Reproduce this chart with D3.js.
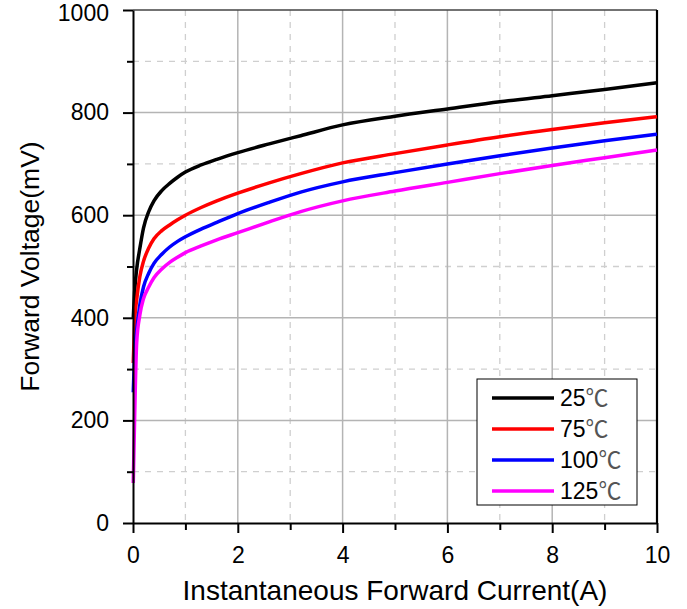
<!DOCTYPE html>
<html>
<head>
  <meta charset="utf-8">
  <title>Forward Voltage vs Forward Current</title>
  <script src="https://d3js.org/d3.v7.min.js"></script>
  <style>
    body { margin: 0; background: #fff; font-family: "Liberation Sans", Arial, sans-serif; }
    .grid-major line { stroke: #b4b4b4; stroke-width: 1.5px; }
    .grid-minor line { stroke: #cfcfcf; stroke-width: 1.3px; stroke-dasharray: 6,6; }
    .axis path, .axis line { stroke: #000; stroke-width: 2px; }
    .axis text { font-size: 23px; fill: #000; font-family: "Liberation Sans", Arial, sans-serif; }
    .title { fill: #000; }
    .legend text { font-size: 23px; fill: #000; }
    .deg { font-family: "Noto Sans CJK SC", "DejaVu Sans", sans-serif; fill: #555; }
  </style>
</head>
<body>
  <svg width="687" height="609"></svg>
  <script>
    // data
    const current = [0.005, 0.03, 0.07, 0.13, 0.2, 0.3, 0.4, 0.55, 0.7, 0.85, 1.0, 1.3, 1.6, 2.0, 2.6, 3.2, 4, 5, 6, 7, 8, 9, 10];
    const v25  = [400, 450, 495, 535, 575, 607, 628, 648, 662, 674, 684, 698, 709, 722, 739, 755, 776, 793, 807, 821, 833, 845, 858];
    const v75  = [312, 390, 435, 480, 510, 536, 554, 570, 581, 591, 600, 615, 628, 643, 663, 681, 702, 720, 737, 753, 767, 780, 792];
    const v100 = [255, 330, 376, 425, 460, 487, 506, 524, 538, 549, 558, 573, 586, 603, 625, 645, 665, 683, 700, 716, 731, 745, 758];
    const v125 = [78, 200, 351, 405, 437, 460, 478, 495, 508, 518, 527, 540, 552, 566, 587, 607, 628, 647, 664, 681, 697, 712, 727];

    const seriesNames = ["25", "75", "100", "125"];
    const seriesColors = ["#000000", "#ff0000", "#0000ff", "#ff00ff"];
    const seriesValues = [v25, v75, v100, v125];

    const xMajor = [0, 2, 4, 6, 8, 10];
    const xMinor = [1, 3, 5, 7, 9];
    const yMajor = [0, 200, 400, 600, 800, 1000];
    const yMinor = [100, 300, 500, 700, 900];

    const svg = d3.select("svg");
    const pl = 133, pr = 657, pt = 10, pb = 523;

    const x = d3.scaleLinear().domain([0, 10]).range([pl, pr]);
    const y = d3.scaleLinear().domain([0, 1000]).range([pb, pt]);

    // grid lines
    const gMinor = svg.append("g").attr("class", "grid-minor");
    gMinor.selectAll("line.vx").data(xMinor).enter().append("line")
      .attr("x1", d => x(d)).attr("x2", d => x(d)).attr("y1", pt).attr("y2", pb);
    gMinor.selectAll("line.hy").data(yMinor).enter().append("line")
      .attr("x1", pl).attr("x2", pr).attr("y1", d => y(d)).attr("y2", d => y(d));

    const gMajor = svg.append("g").attr("class", "grid-major");
    gMajor.selectAll("line.vx").data(xMajor.slice(1, -1)).enter().append("line")
      .attr("x1", d => x(d)).attr("x2", d => x(d)).attr("y1", pt).attr("y2", pb);
    gMajor.selectAll("line.hy").data(yMajor.slice(1, -1)).enter().append("line")
      .attr("x1", pl).attr("x2", pr).attr("y1", d => y(d)).attr("y2", d => y(d));

    // top and right frame
    svg.append("line").attr("x1", pl).attr("x2", pr).attr("y1", pt).attr("y2", pt)
      .attr("stroke", "#444").attr("stroke-width", 1.5);
    svg.append("line").attr("x1", pr).attr("x2", pr).attr("y1", pt).attr("y2", pb)
      .attr("stroke", "#000").attr("stroke-width", 2.2);

    // curves
    const line = d3.line()
      .x(d => x(d[0]))
      .y(d => y(d[1]))
      .curve(d3.curveMonotoneX);

    seriesValues.forEach((vals, i) => {
      svg.append("path")
        .datum(current.map((c, k) => [c, vals[k]]))
        .attr("fill", "none")
        .attr("stroke", seriesColors[i])
        .attr("stroke-width", 3.5)
        .attr("stroke-linejoin", "round")
        .attr("d", line);
    });

    // axes: minor ticks first, then major with labels
    svg.append("g").attr("class", "axis")
      .attr("transform", `translate(0,${pb})`)
      .call(d3.axisBottom(x).tickValues(xMinor).tickSize(7).tickFormat(""))
      .call(g => g.select(".domain").remove());
    svg.append("g").attr("class", "axis")
      .attr("transform", `translate(0,${pb})`)
      .call(d3.axisBottom(x).tickValues(xMajor).tickSize(10).tickSizeOuter(0).tickPadding(14).tickFormat(d3.format("d")));

    svg.append("g").attr("class", "axis")
      .attr("transform", `translate(${pl},0)`)
      .call(d3.axisLeft(y).tickValues(yMinor).tickSize(6).tickFormat(""))
      .call(g => g.select(".domain").remove());
    svg.append("g").attr("class", "axis")
      .attr("transform", `translate(${pl},0)`)
      .call(d3.axisLeft(y).tickValues(yMajor).tickSize(10).tickSizeOuter(0).tickPadding(14).tickFormat(d3.format("d")))
      .call(g => g.selectAll("text").filter(d => d === 1000).attr("dy", "0.36em").attr("y", 2));

    // titles
    svg.append("text").attr("class", "title")
      .attr("x", (pl + pr) / 2).attr("y", 600)
      .attr("text-anchor", "middle")
      .style("font-size", "28px")
      .text("Instantaneous Forward Current(A)");
    svg.append("text").attr("class", "title")
      .attr("transform", `translate(39,${(pt + pb) / 2}) rotate(-90)`)
      .attr("text-anchor", "middle")
      .style("font-size", "26.5px")
      .text("Forward Voltage(mV)");

    // legend
    const legend = svg.append("g").attr("class", "legend");
    legend.append("rect")
      .attr("x", 477).attr("y", 379).attr("width", 160).attr("height", 126)
      .attr("fill", "#fff").attr("stroke", "#000").attr("stroke-width", 1);
    seriesNames.forEach((name, i) => {
      const ly = 398 + i * 31;
      legend.append("line")
        .attr("x1", 492).attr("x2", 554).attr("y1", ly).attr("y2", ly)
        .attr("stroke", seriesColors[i]).attr("stroke-width", 3.5);
      const t = legend.append("text").attr("x", 560).attr("y", ly + 8);
      t.append("tspan").text(name);
      t.append("tspan").attr("class", "deg").text("℃");
    });
  </script>
</body>
</html>
